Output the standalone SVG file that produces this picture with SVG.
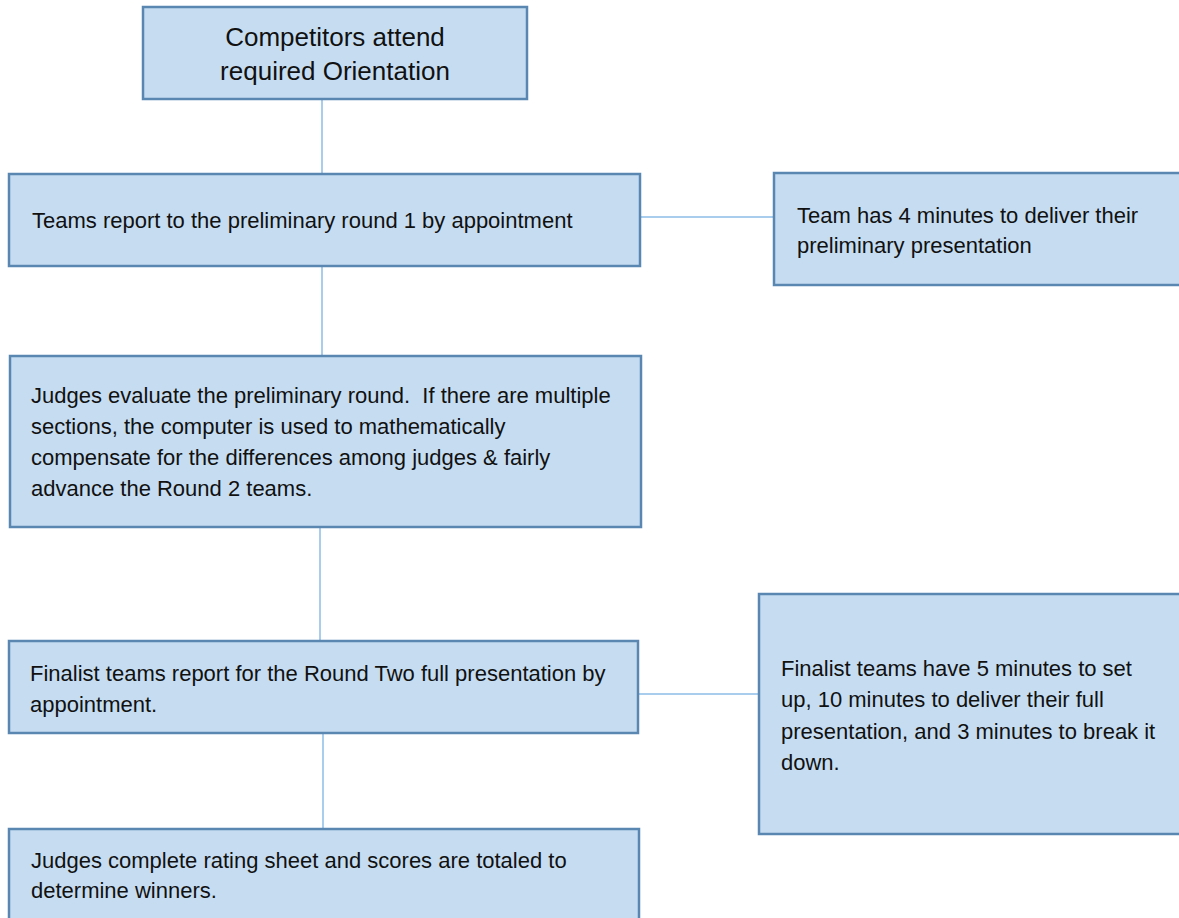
<svg xmlns="http://www.w3.org/2000/svg" width="1179" height="918" viewBox="0 0 1179 918">
<style>
.box{fill:#c6ddf1;stroke:#5a87b2;stroke-width:2.5}
.t{font-family:"Liberation Sans",Arial,sans-serif;font-size:22px;fill:#111;white-space:pre}
.t1{font-family:"Liberation Sans",Arial,sans-serif;font-size:26px;fill:#111;text-anchor:middle}
.c{stroke:#8dbde6;stroke-width:1.5;fill:none}
</style>
<rect width="1179" height="918" fill="#ffffff"/>
<g id="connectors">
<line class="c" x1="322" y1="99" x2="322" y2="174"/>
<line class="c" x1="322" y1="266" x2="322" y2="356"/>
<line class="c" x1="320" y1="527" x2="320" y2="641"/>
<line class="c" x1="323" y1="733" x2="323" y2="829"/>
<line class="c" x1="640" y1="217" x2="774" y2="217"/>
<line class="c" x1="638" y1="694" x2="759" y2="694"/>
</g>
<g id="n1">
<rect class="box" x="143" y="7" width="384" height="92"/>
<text class="t1" x="335" y="46">Competitors attend</text>
<text class="t1" x="335" y="80">required Orientation</text>
</g>
<g id="n2">
<rect class="box" x="9" y="174" width="631" height="92"/>
<text class="t" x="32" y="228">Teams report to the preliminary round 1 by appointment</text>
</g>
<g id="n3">
<rect class="box" x="774" y="173" width="410" height="112"/>
<text class="t" x="797" y="223">Team has 4 minutes to deliver their</text>
<text class="t" x="797" y="253">preliminary presentation</text>
</g>
<g id="n4">
<rect class="box" x="10" y="356" width="631" height="171"/>
<text class="t" x="31" y="403" xml:space="preserve">Judges evaluate the preliminary round.  If there are multiple</text>
<text class="t" x="31" y="434">sections, the computer is used to mathematically</text>
<text class="t" x="31" y="465">compensate for the differences among judges &amp; fairly</text>
<text class="t" x="31" y="496">advance the Round 2 teams.</text>
</g>
<g id="n5">
<rect class="box" x="9" y="641" width="629" height="92"/>
<text class="t" x="30" y="681">Finalist teams report for the Round Two full presentation by</text>
<text class="t" x="30" y="712">appointment.</text>
</g>
<g id="n6">
<rect class="box" x="759" y="594" width="425" height="240"/>
<text class="t" x="781" y="676">Finalist teams have 5 minutes to set</text>
<text class="t" x="781" y="707">up, 10 minutes to deliver their full</text>
<text class="t" x="781" y="739">presentation, and 3 minutes to break it</text>
<text class="t" x="781" y="770">down.</text>
</g>
<g id="n7">
<rect class="box" x="9" y="829" width="630" height="95"/>
<text class="t" x="31" y="868">Judges complete rating sheet and scores are totaled to</text>
<text class="t" x="31" y="898">determine winners.</text>
</g>
</svg>
